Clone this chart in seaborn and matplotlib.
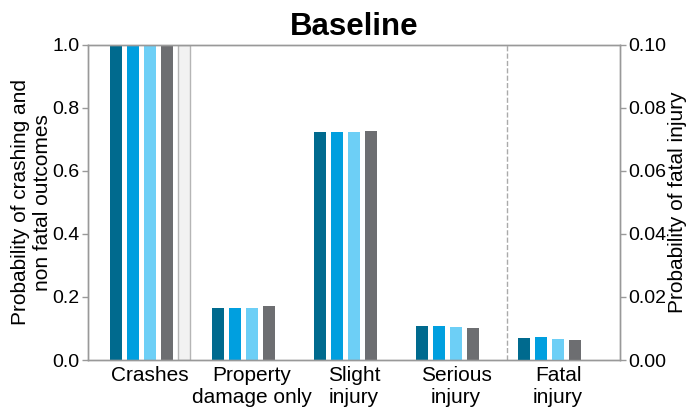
import matplotlib
matplotlib.use("Agg")
import matplotlib.pyplot as plt
import pandas as pd
import seaborn as sns

categories = ["Crashes", "Property\ndamage only", "Slight\ninjury", "Serious\ninjury", "Fatal\ninjury"]
series = ["Scenario 1", "Scenario 2", "Scenario 3", "Scenario 4", "Observed"]
colors = ["#006a8e", "#009fdf", "#6dcff6", "#6d6e71", "#f2f2f2"]

# left axis values (crash and non fatal outcomes)
scenario_1 = [1.0, 0.165, 0.723, 0.107]
scenario_2 = [1.0, 0.164, 0.723, 0.109]
scenario_3 = [1.0, 0.166, 0.723, 0.106]
scenario_4 = [1.0, 0.171, 0.725, 0.101]
observed = [1.0]

# right axis values (fatal injury)
fatal = [0.0069, 0.0072, 0.0067, 0.0063]

rows = []
for name, vals in zip(series, [scenario_1, scenario_2, scenario_3, scenario_4, observed]):
    for cat, v in zip(categories, vals):
        rows.append({"category": cat, "series": name, "value": v})
df_left = pd.DataFrame(rows)
df_right = pd.DataFrame({"category": categories[-1], "series": series[:4], "value": fatal})

sns.set_style("white")
plt.rcParams["font.family"] = ["Liberation Sans", "DejaVu Sans"]
plt.rcParams["text.color"] = "black"
plt.rcParams["axes.labelcolor"] = "black"
plt.rcParams["xtick.labelcolor"] = "black"
plt.rcParams["ytick.labelcolor"] = "black"

fig = plt.figure(figsize=(6.93, 4.11), dpi=100)
ax = fig.add_axes([0.127, 0.124, 0.768, 0.767])
ax2 = ax.twinx()

bar_kw = dict(x="category", y="value", hue="series", order=categories, hue_order=series,
              palette=colors, width=0.83, gap=0.3, legend=False, errorbar=None,
              linewidth=0, saturation=1)
sns.barplot(data=df_left, ax=ax, **bar_kw)
sns.barplot(data=df_right, ax=ax2, **bar_kw)

for bar in ax.containers[4]:
    bar.set_edgecolor("#b5b5b5")
    bar.set_linewidth(1.0)

ax.set_ylim(0, 1.0)
ax2.set_ylim(0, 0.10)
ax.set_xlim(-0.61, 4.61)
ax.set_yticks([0, 0.2, 0.4, 0.6, 0.8, 1.0])
ax2.set_yticks([0, 0.02, 0.04, 0.06, 0.08, 0.10])
ax.yaxis.set_major_formatter(matplotlib.ticker.FormatStrFormatter("%.1f"))
ax2.yaxis.set_major_formatter(matplotlib.ticker.FormatStrFormatter("%.2f"))

ax.axvline(3.5, color="#aaaaaa", linestyle="--", linewidth=1.0)

ax.set_xlabel("")
ax.set_ylabel("Probability of crashing and\nnon fatal outcomes", fontsize=15, labelpad=0)
ax2.set_ylabel("Probability of fatal injury", fontsize=15, labelpad=1)
ax2.set_xlabel("")
ax.set_title("Baseline", fontsize=22.5, fontweight="bold", pad=7)

for a in (ax, ax2):
    for s in a.spines.values():
        s.set_color("#999999")
        s.set_linewidth(1.0)
    a.tick_params(axis="both", which="both", length=4, width=1, color="#999999",
                  labelsize=14, direction="out", pad=2)
ax.tick_params(axis="x", length=3, pad=1, labelsize=15)
ax.tick_params(axis="y", left=True)
ax2.tick_params(axis="y", right=True)

fig.savefig("out.png", dpi=100)
